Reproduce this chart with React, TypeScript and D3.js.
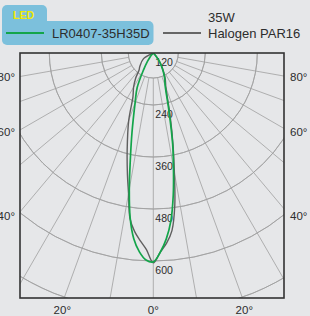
import * as d3 from "d3";

// beam angle (deg, 0 = straight down, negative = left side)
const angles = [-90, -60, -45, -40, -35, -30, -25, -20, -15, -12, -10, -8, -6, -4, -2, 0, 2, 4, 6, 8, 10, 12, 15, 20, 25, 30, 35, 40, 45, 60, 90];
// luminous intensity, cd
const ledValues = [120, 120, 120, 131, 143, 165, 208, 243, 310, 376, 439, 504, 551, 580, 598, 602, 580, 550, 509, 451, 388, 335, 261, 200, 181, 162, 146, 130, 120, 120, 120];
const halogenValues = [120, 146, 164, 171, 191, 211, 231, 286, 353, 407, 449, 506, 534, 554, 574, 604, 580, 560, 532, 476, 400, 340, 270, 205, 185, 165, 148, 133, 122, 120, 120];

const ringValues = [240, 360, 480, 600, 720];
const ringLabels = [120, 240, 360, 480, 600];
const spokeAngles = [-80, -70, -60, -50, -40, -30, -20, -10, 0, 10, 20, 30, 40, 50, 60, 70, 80];
const sideLabels = [80, 60, 40];
const bottomLabels = [-20, 0, 20];

const ledName = "LR0407-35H35D";
const halogenName = ["35W", "Halogen PAR16"];

export default function App() {
  const W = 310;
  const H = 316;
  const box = { x: 20, y: 53, w: 264, h: 245 };
  const cx = 153.3;
  const cy = box.y;
  const hub = 25;
  const font = "'Liberation Sans', Arial, sans-serif";

  const r = d3.scaleLinear().domain([120, 720]).range([0, 260]).clamp(true);
  const rad = (deg: number) => (deg * Math.PI) / 180;

  const line = d3
    .lineRadial<number>()
    .angle((d, i) => Math.PI - rad(angles[i]))
    .radius((d) => r(d))
    .curve(d3.curveCatmullRom);

  const arc = (rr: number) =>
    d3.arc()({ innerRadius: rr, outerRadius: rr, startAngle: Math.PI / 2, endAngle: (3 * Math.PI) / 2 }) as string;

  return (
    <svg width={W} height={H} style={{ position: "absolute", left: 0, top: 0 }} fontFamily={font}>
      <rect width={W} height={H} fill="#e6e7e9" />

      {/* legend */}
      <rect x={2} y={5} width={45} height={26} rx={5} fill="#7cc0dc" />
      <rect x={2} y={21} width={151.5} height={24} rx={5} fill="#7cc0dc" />
      <text x={13} y={18.5} fontSize={10.5} fontWeight="bold" fill="#f2ea00">LED</text>
      <line x1={6} x2={44} y1={33} y2={33} stroke="#13a54a" strokeWidth={2.2} />
      <text x={52} y={37.5} fontSize={13} fill="#2d2d2d">{ledName}</text>
      <line x1={163} x2={201} y1={33} y2={33} stroke="#666" strokeWidth={2.2} />
      <text x={208} y={21.5} fontSize={13} fill="#2d2d2d">{halogenName[0]}</text>
      <text x={208} y={37.5} fontSize={13} fill="#2d2d2d">{halogenName[1]}</text>

      <defs>
        <clipPath id="plot">
          <rect x={box.x} y={box.y} width={box.w} height={box.h} />
        </clipPath>
      </defs>

      <g clipPath="url(#plot)">
        <g transform={`translate(${cx},${cy})`}>
          <path d={arc(hub)} fill="none" stroke="#a0a0a0" strokeWidth={0.8} />
          {ringValues.map((v) => (
            <path key={v} d={arc(r(v))} fill="none" stroke="#a0a0a0" strokeWidth={0.8} />
          ))}
          {spokeAngles.map((a) => (
            <line
              key={a}
              x1={hub * Math.sin(rad(a))}
              y1={hub * Math.cos(rad(a))}
              x2={400 * Math.sin(rad(a))}
              y2={400 * Math.cos(rad(a))}
              stroke="#a0a0a0"
              strokeWidth={0.8}
            />
          ))}
          {ringLabels.map((v) => (
            <text key={v} x={2} y={r(v) + 12.5} fontSize={10.5} fill="#2d2d2d">{v}</text>
          ))}
          <path d={line(halogenValues) as string} fill="none" stroke="#5f5f5f" strokeWidth={1.4} />
          <path d={line(ledValues) as string} fill="none" stroke="#13a54a" strokeWidth={1.7} />
        </g>
      </g>

      <rect x={box.x} y={box.y} width={box.w} height={box.h} fill="none" stroke="#333" strokeWidth={1.6} />

      {sideLabels.map((a) => (
        <g key={a}>
          <text x={box.x - 5} y={cy + 137 / Math.tan(rad(a)) + 4} fontSize={11.5} textAnchor="end" fill="#2d2d2d">{a}°</text>
          <text x={box.x + box.w + 6} y={cy + 137 / Math.tan(rad(a)) + 4} fontSize={11.5} fill="#2d2d2d">{a}°</text>
        </g>
      ))}
      {bottomLabels.map((a) => (
        <text key={a} x={cx + 250 * Math.tan(rad(a))} y={314} fontSize={11.5} textAnchor="middle" fill="#2d2d2d">{Math.abs(a)}°</text>
      ))}
    </svg>
  );
}
